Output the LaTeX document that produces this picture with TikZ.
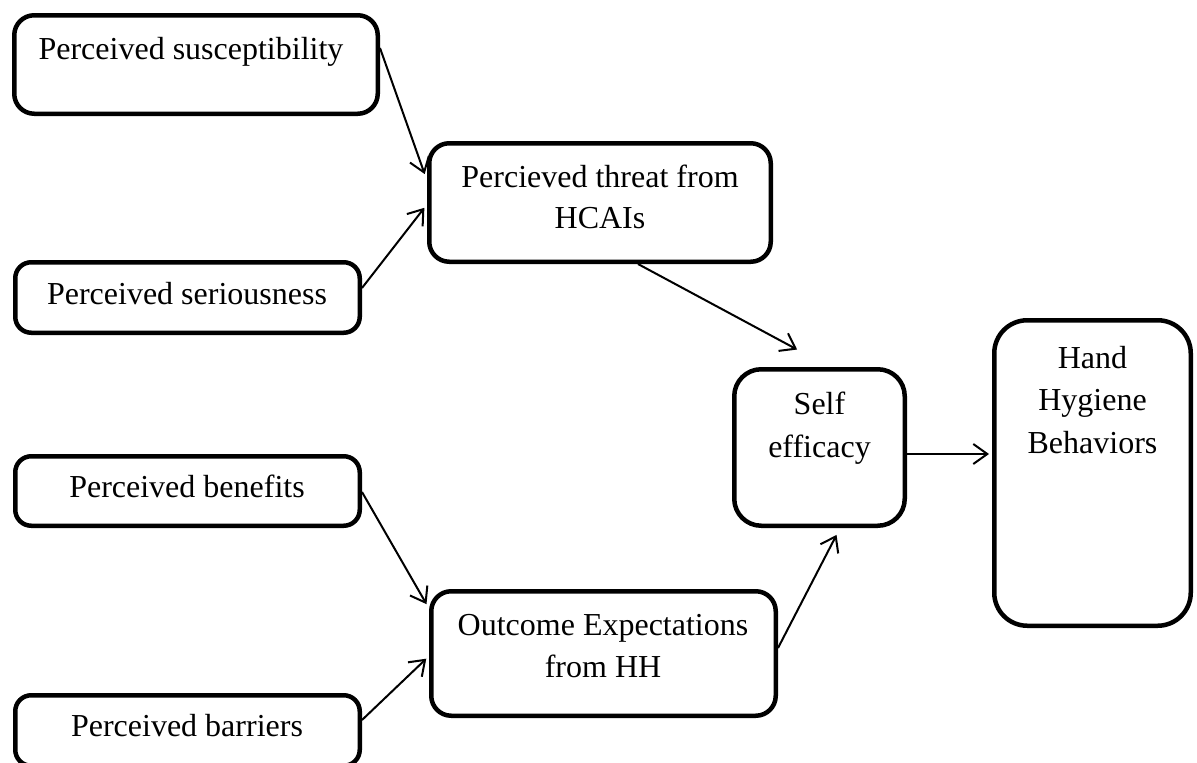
\documentclass[tikz,border=0pt]{standalone}
\usepackage{fontspec}
\setmainfont{Liberation Serif}
\usetikzlibrary{arrows.meta}
\tikzset{
  box/.style={draw, line width=4.5pt, inner sep=0pt, rounded corners=#1},
  box/.default=20pt,
  lbl/.style={anchor=base, inner sep=0pt, font=\fontsize{32}{40}\selectfont},
  arr/.style={line width=2pt, -{Straight Barb[length=14pt,width=20pt,line width=2pt]}, shorten >=1pt}
}
\begin{document}
\begin{tikzpicture}[x=1pt,y=-1pt]
\useasboundingbox (0,0) rectangle (1197,763);
\clip (0,0) rectangle (1197,763);
% boxes
\node[box=20pt, minimum width=363.5pt, minimum height=98.5pt] (s1) at (196,64.5) {};
\node[box=16pt, minimum width=344.5pt, minimum height=70.5pt] (s2) at (187.5,297.5) {};
\node[box=20pt, minimum width=341.5pt, minimum height=118.5pt] (t) at (600,202.5) {};
\node[box=27pt, minimum width=170.5pt, minimum height=156.5pt] (se) at (819.5,447.5) {};
\node[box=33pt, minimum width=196.5pt, minimum height=305.5pt] (h) at (1092.5,473) {};
\node[box=16pt, minimum width=344.5pt, minimum height=69.5pt] (b1) at (187.5,491) {};
\node[box=20pt, minimum width=344.5pt, minimum height=124.5pt] (o) at (603.5,653.5) {};
\node[box=16pt, minimum width=344.5pt, minimum height=70.5pt] (b2) at (187.5,730.5) {};
% texts
\node[lbl] (s1t) at (191,59) {Perceived susceptibility};
\node[lbl] (s2t) at (187,304) {Perceived seriousness};
\node[lbl] (tt1) at (600,187) {Percieved threat from};
\node[lbl] (tt2) at (600,228) {HCAIs};
\node[lbl] (set1) at (819.5,414) {Self};
\node[lbl] (set2) at (819.5,457) {efficacy};
\node[lbl] (ht1) at (1092.5,368) {Hand};
\node[lbl] (ht2) at (1092.5,410) {Hygiene};
\node[lbl] (ht3) at (1092.5,453) {Behaviors};
\node[lbl] (b1t) at (187,497) {Perceived benefits};
\node[lbl] (ot1) at (603,635) {Outcome Expectations};
\node[lbl] (ot2) at (603,677) {from HH};
\node[lbl] (b2t) at (187,736) {Perceived barriers};
% connectors
\draw[arr] ([yshift=16.5pt]s1.east) -- ([xshift=-2pt,yshift=27.5pt]t.west);
\draw[arr] ([yshift=9.5pt]s2.east) -- ([xshift=-2pt,yshift=-4.5pt]t.west);
\draw[arr] ([xshift=38pt]t.south) -- ([xshift=-21.5pt,yshift=17pt]se.north);
\draw[arr] ([yshift=5.5pt]o.east) -- ([xshift=17.5pt,yshift=-6pt]se.south);
\draw[arr] ([yshift=-6.5pt]se.east) -- ([xshift=-2pt,yshift=19pt]h.west);
\draw[arr] ([yshift=-1pt]b1.east) -- ([xshift=-2pt,yshift=48.5pt]o.west);
\draw[arr] ([yshift=10.5pt]b2.east) -- ([xshift=-2pt,yshift=-4.5pt]o.west);
\end{tikzpicture}
\end{document}
